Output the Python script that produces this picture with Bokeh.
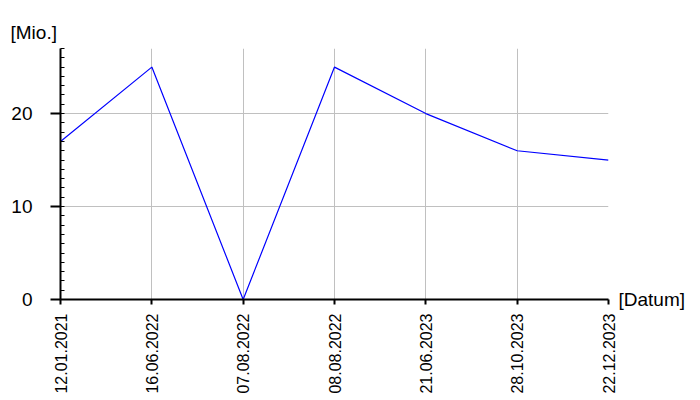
from bokeh.plotting import figure
from bokeh.models import Range1d, FixedTicker, SingleIntervalTicker, LinearAxis
from bokeh.embed import file_html
from bokeh.resources import INLINE
import math

dates = ["12.01.2021", "16.06.2022", "07.08.2022", "08.08.2022", "21.06.2023", "28.10.2023", "22.12.2023"]
values = [17, 25, 0, 25, 20, 16, 15]
y_max = 27
y_unit = "[Mio.]"
x_unit = "[Datum]"

xs = list(range(len(dates)))

font = "Liberation Sans"

p = figure(frame_width=548, frame_height=251, min_border_left=60, min_border_top=48,
           min_border_right=84, min_border_bottom=85,
           x_range=Range1d(0, len(dates) - 1), y_range=Range1d(0, y_max),
           output_backend="svg", toolbar_location=None, outline_line_color=None,
           title=y_unit)

p.title.align = "left"
p.title.offset = -50
p.title.text_font = font
p.title.text_font_size = "19px"
p.title.text_font_style = "normal"
p.title.text_color = "black"
p.title.standoff = 11

p.line(xs, values, line_color="#0000ff", line_width=1.2)

p.xaxis.ticker = FixedTicker(ticks=xs)
p.xaxis.major_label_overrides = {i: d for i, d in enumerate(dates)}
p.xaxis.major_label_orientation = math.pi / 2
p.xaxis.major_label_text_font = font
p.xaxis.major_label_text_font_size = "16px"
p.xaxis.major_label_text_color = "black"
p.xaxis.major_label_standoff = 9
p.xaxis.major_tick_in = 0
p.xaxis.major_tick_out = 5
p.xaxis.minor_tick_line_color = None
p.xaxis.axis_line_width = 2
p.xaxis.axis_line_color = "black"
p.xaxis.major_tick_line_color = "black"
p.xaxis.major_tick_line_width = 2

p.yaxis.ticker = SingleIntervalTicker(interval=10, num_minor_ticks=10)
p.yaxis.major_label_text_font = font
p.yaxis.major_label_text_font_size = "19px"
p.yaxis.major_label_text_color = "black"
p.yaxis.major_label_standoff = 18
p.yaxis.major_tick_in = 0
p.yaxis.major_tick_out = 10
p.yaxis.minor_tick_in = 4
p.yaxis.minor_tick_out = 0
p.yaxis.axis_line_width = 2
p.yaxis.axis_line_color = "black"
p.yaxis.major_tick_line_color = "black"
p.yaxis.major_tick_line_width = 2
p.yaxis.minor_tick_line_color = "black"
p.yaxis.minor_tick_line_width = 1

p.xgrid.ticker = FixedTicker(ticks=xs)
p.xgrid.grid_line_color = "#c0c0c0"
p.ygrid.grid_line_color = "#c0c0c0"

# unit label for the x axis, placed at the right end of the x axis
unit_axis = LinearAxis(ticker=FixedTicker(ticks=[0]),
                       major_label_overrides={0: x_unit},
                       axis_line_color=None, major_tick_line_color=None,
                       minor_tick_line_color=None, major_tick_in=0, major_tick_out=0,
                       major_label_standoff=10,
                       major_label_text_font=font, major_label_text_font_size="19px",
                       major_label_text_color="black")
p.add_layout(unit_axis, "right")

open("out.html", "w").write(file_html(p, INLINE))
